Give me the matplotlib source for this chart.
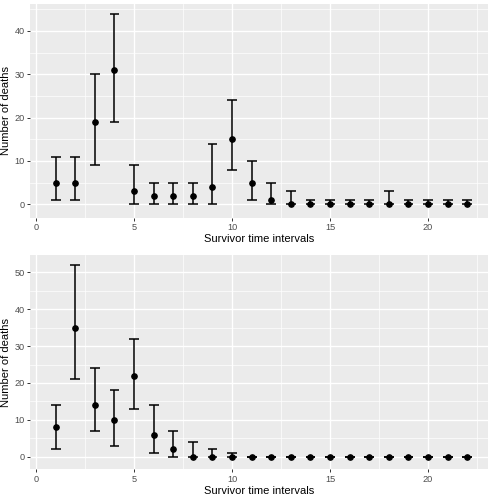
import numpy as np
import matplotlib
matplotlib.use('agg')
from matplotlib import pyplot as plt
from matplotlib.ticker import MultipleLocator

plt.rcParams['font.family'] = ['Liberation Sans', 'DejaVu Sans']

intervals = list(range(1, 23))

# first panel
deaths_a = [5, 5, 19, 31, 3, 2, 2, 2, 4, 15, 5, 1, 0, 0, 0, 0, 0, 0, 0, 0, 0, 0]
lower_a = [1, 1, 9, 19, 0, 0, 0, 0, 0, 8, 1, 0, 0, 0, 0, 0, 0, 0, 0, 0, 0, 0]
upper_a = [11, 11, 30, 44, 9, 5, 5, 5, 14, 24, 10, 5, 3, 1, 1, 1, 1, 3, 1, 1, 1, 1]

# second panel
deaths_b = [8, 35, 14, 10, 22, 6, 2, 0, 0, 0, 0, 0, 0, 0, 0, 0, 0, 0, 0, 0, 0, 0]
lower_b = [2, 21, 7, 3, 13, 1, 0, 0, 0, 0, 0, 0, 0, 0, 0, 0, 0, 0, 0, 0, 0, 0]
upper_b = [14, 52, 24, 18, 32, 14, 7, 4, 2, 1, 0, 0, 0, 0, 0, 0, 0, 0, 0, 0, 0, 0]

W, H = 494, 496
fig = plt.figure(figsize=(W / 100, H / 100), dpi=100)


def panel(rect_px, x, y, lo, hi, ylim, ystep):
    left, top, right, bottom = rect_px
    ax = fig.add_axes([left / W, 1 - bottom / H, (right - left) / W, (bottom - top) / H])
    ax.set_facecolor('#EBEBEB')
    for s in ax.spines.values():
        s.set_visible(False)

    x = np.array(x)
    half = 0.25
    ax.vlines(x, lo, hi, color='black', lw=1.1, zorder=3)
    ax.hlines(lo, x - half, x + half, color='black', lw=1.1, zorder=3)
    ax.hlines(hi, x - half, x + half, color='black', lw=1.1, zorder=3)
    ax.plot(x, y, 'o', color='black', markersize=3.8, zorder=4)

    ax.set_xlim(-0.31, 23.06)
    ax.set_ylim(*ylim)
    ax.xaxis.set_major_locator(MultipleLocator(5))
    ax.xaxis.set_minor_locator(MultipleLocator(2.5))
    ax.yaxis.set_major_locator(MultipleLocator(ystep))
    ax.yaxis.set_minor_locator(MultipleLocator(ystep / 2))
    ax.grid(True, which='major', color='white', lw=1.0)
    ax.grid(True, which='minor', color='white', lw=0.5)
    ax.set_axisbelow(True)
    ax.tick_params(which='major', length=2.5, width=0.7, color='#333333',
                   labelsize=6.6, labelcolor='#4D4D4D', pad=1.5)
    ax.tick_params(which='minor', length=0)
    ax.set_xlabel('Survivor time intervals', fontsize=8, labelpad=1.5)
    ax.set_ylabel('Number of deaths', fontsize=8, labelpad=2)
    return ax


panel((30, 4, 488, 217.7), intervals, deaths_a, lower_a, upper_a, (-3.1, 46.2), 10)
panel((30, 255, 488, 469.3), intervals, deaths_b, lower_b, upper_b, (-3.4, 54.7), 10)

plt.savefig('out.png', dpi=100)
plt.close()
